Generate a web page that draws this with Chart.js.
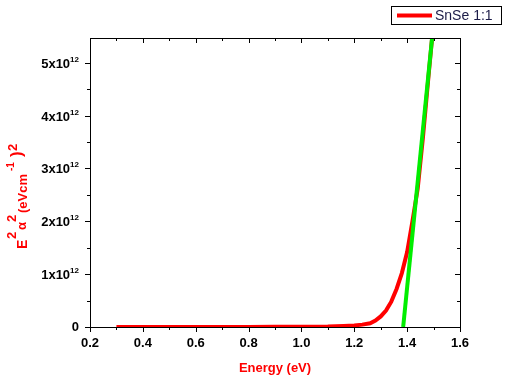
<!DOCTYPE html>
<html>
<head>
<meta charset="utf-8">
<script src="https://cdn.jsdelivr.net/npm/chart.js@4"></script>
<style>
  html, body { margin: 0; padding: 0; background: #fff; }
  #wrap { width: 507px; height: 382px; }
</style>
</head>
<body>
<div id="wrap"><canvas id="chart" width="507" height="382"></canvas></div>
<script>
// measured curve (red)
const energy = [0.30, 0.40, 0.50, 0.60, 0.70, 0.80, 0.90, 1.00, 1.10, 1.16, 1.20, 1.23, 1.26, 1.28, 1.30, 1.32, 1.34, 1.36, 1.38, 1.40, 1.42, 1.44, 1.46, 1.48, 1.495];
const absorption = [0, 0, 0, 0, 0, 0.002e12, 0.004e12, 0.006e12, 0.01e12, 0.02e12, 0.03e12, 0.045e12, 0.07e12, 0.12e12, 0.2e12, 0.31e12, 0.48e12, 0.72e12, 1.02e12, 1.42e12, 2.0e12, 2.62e12, 3.6e12, 4.7e12, 5.5e12];

// linear fit (green)
const fitEnergy = [1.385, 1.497];
const fitValue = [0, 5.6e12];

// axes
const xTicks = [0.2, 0.4, 0.6, 0.8, 1.0, 1.2, 1.4, 1.6];
const xMinor = [0.3, 0.5, 0.7, 0.9, 1.1, 1.3, 1.5];
const yTicks = [0, 1e12, 2e12, 3e12, 4e12, 5e12];
const yMantissa = ['0', '1', '2', '3', '4', '5'];
const yMinor = [0.5e12, 1.5e12, 2.5e12, 3.5e12, 4.5e12];

const FONT = '"Liberation Sans", Arial, sans-serif';

function toPoints(xs, ys) {
    return xs.map((x, i) => ({ x: x, y: ys[i] }));
}

const framePlugin = {
    id: 'frame',
    afterDraw(chart) {
        const ctx = chart.ctx;
        const a = chart.chartArea;
        const xs = chart.scales.x, ys = chart.scales.y;
        ctx.save();
        ctx.strokeStyle = '#000';
        ctx.lineWidth = 1;
        ctx.strokeRect(Math.round(a.left) + 0.5, Math.round(a.top) + 0.5, Math.round(a.right - a.left), Math.round(a.bottom - a.top));

        function hTick(v, len) {
            const px = Math.round(xs.getPixelForValue(v)) + 0.5;
            ctx.beginPath();
            ctx.moveTo(px, a.bottom); ctx.lineTo(px, a.bottom + len);
            ctx.moveTo(px, a.top); ctx.lineTo(px, a.top + len);
            ctx.stroke();
        }
        function vTick(v, len) {
            const py = Math.round(ys.getPixelForValue(v)) + 0.5;
            ctx.beginPath();
            ctx.moveTo(a.left, py); ctx.lineTo(a.left - len, py);
            ctx.moveTo(a.right, py); ctx.lineTo(a.right - len, py);
            ctx.stroke();
        }
        xTicks.forEach(v => hTick(v, 5));
        xMinor.forEach(v => hTick(v, 3));
        yTicks.forEach(v => vTick(v, 5));
        yMinor.forEach(v => vTick(v, 3));

        // x tick labels
        ctx.fillStyle = '#000';
        ctx.font = 'bold 13px ' + FONT;
        ctx.textAlign = 'center';
        ctx.textBaseline = 'middle';
        xTicks.forEach(v => {
            ctx.fillText(v.toFixed(1), xs.getPixelForValue(v), a.bottom + 16);
        });

        // y tick labels with exponent
        yTicks.forEach((v, i) => {
            const py = ys.getPixelForValue(v);
            const right = a.left - 11;
            ctx.textBaseline = 'alphabetic';
            ctx.textAlign = 'right';
            if (v === 0) {
                ctx.font = 'bold 13px ' + FONT;
                ctx.fillText('0', right, py + 4);
                return;
            }
            ctx.font = 'bold 8px ' + FONT;
            const ew = ctx.measureText('12').width;
            ctx.fillText('12', right, py - 1);
            ctx.font = 'bold 13px ' + FONT;
            ctx.fillText(yMantissa[i] + 'x10', right - ew, py + 5);
        });

        // x title
        ctx.fillStyle = '#ff0000';
        ctx.font = 'bold 13px ' + FONT;
        ctx.textAlign = 'center';
        ctx.textBaseline = 'middle';
        ctx.fillText('Energy (eV)', (a.left + a.right) / 2, 368);

        // y title, rotated; start = screen y where the piece begins, base = screen x of baseline
        const parts = [
            { t: 'E', size: 14, start: 249, base: 27 },
            { t: '2', size: 13, start: 239, base: 16 },
            { t: 'α', size: 13, start: 230, base: 26 },
            { t: '2', size: 13, start: 222, base: 16 },
            { t: '(eVcm', size: 13, start: 213, base: 27 },
            { t: '-1', size: 10, start: 171, base: 14 },
            { t: ')', size: 17, start: 157, base: 22 },
            { t: '2', size: 13, start: 151, base: 17 }
        ];
        ctx.rotate(-Math.PI / 2);
        ctx.textAlign = 'left';
        ctx.textBaseline = 'alphabetic';
        parts.forEach(p => {
            ctx.font = 'bold ' + p.size + 'px ' + FONT;
            ctx.fillText(p.t, -p.start, p.base);
        });
        ctx.restore();

        // legend
        const ds = chart.data.datasets[0];
        ctx.save();
        ctx.strokeStyle = '#000';
        ctx.lineWidth = 1;
        ctx.strokeRect(391.5, 6.5, 110, 18);
        ctx.strokeStyle = ds.borderColor;
        ctx.lineWidth = 4;
        ctx.beginPath();
        ctx.moveTo(397, 15.5); ctx.lineTo(432, 15.5);
        ctx.stroke();
        ctx.fillStyle = '#1c1c48';
        ctx.font = '14px ' + FONT;
        ctx.textAlign = 'left';
        ctx.textBaseline = 'middle';
        ctx.fillText(ds.label, 435, 16);
        ctx.restore();
    }
};

new Chart(document.getElementById('chart'), {
    type: 'line',
    data: {
        datasets: [
            {
                label: 'SnSe 1:1',
                data: toPoints(energy, absorption),
                borderColor: '#ff0000',
                borderWidth: 4,
                pointRadius: 0,
                tension: 0,
                clip: 0,
                order: 2
            },
            {
                label: 'fit',
                data: toPoints(fitEnergy, fitValue),
                borderColor: '#00ee00',
                borderWidth: 4,
                pointRadius: 0,
                tension: 0,
                clip: 0,
                order: 1
            }
        ]
    },
    options: {
        responsive: false,
        animation: false,
        layout: { padding: { left: 90, top: 38, right: 47, bottom: 55 } },
        scales: {
            x: { type: 'linear', min: 0.2, max: 1.6, display: false },
            y: { type: 'linear', min: 0, max: 5.47e12, display: false }
        },
        plugins: {
            legend: { display: false },
            tooltip: { enabled: false }
        }
    },
    plugins: [framePlugin]
});
</script>
</body>
</html>
